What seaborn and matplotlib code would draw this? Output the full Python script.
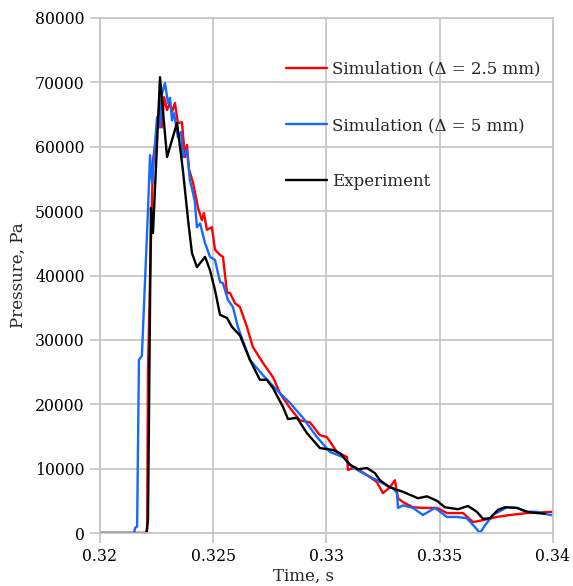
import matplotlib
matplotlib.use("Agg")
import matplotlib.pyplot as plt
import numpy as np
import pandas as pd
import seaborn as sns

# Simulation, mesh 2.5 mm (red)
t_fine = [0.3200, 0.32203, 0.32208, 0.32212, 0.32221, 0.32234, 0.32256, 0.32265, 0.32274,
          0.32283, 0.32296, 0.32309, 0.32318, 0.32331, 0.32344, 0.32362, 0.32375, 0.32384,
          0.32393, 0.32411, 0.32433, 0.32450, 0.32459, 0.32472, 0.32494, 0.32508, 0.32530,
          0.32543, 0.32561, 0.32574, 0.32596, 0.32618, 0.32649, 0.32675, 0.32720, 0.32764,
          0.32795, 0.32839, 0.32883, 0.32927, 0.32971, 0.33002, 0.33046, 0.33091, 0.33095,
          0.33126, 0.33179, 0.33223, 0.33249, 0.33280, 0.33302, 0.33316, 0.33338, 0.33382,
          0.33426, 0.33488, 0.33532, 0.33603, 0.33647, 0.33691, 0.33753, 0.33810, 0.33885,
          0.34000]
p_fine = [0, 0, 300, 25300, 39800, 57900, 63700, 67200, 63000,
          67700, 65700, 66800, 65400, 66800, 63700, 63800, 58400, 60300,
          56500, 54400, 50500, 48600, 49700, 47100, 47500, 44000, 43200,
          42900, 37300, 37300, 35700, 35100, 32000, 28900, 26400, 24200,
          21700, 19400, 17500, 17200, 15200, 14900, 12600, 11800, 9800,
          10200, 9000, 7900, 6200, 7100, 8200, 5400, 4800, 4000,
          3900, 3900, 3100, 3100, 1700, 2000, 2500, 2800, 3100,
          3300]

# Simulation, mesh 5 mm (blue)
t_coarse = [0.3200, 0.32150, 0.32155, 0.32164, 0.32172, 0.32185, 0.32199, 0.32212, 0.32221,
            0.32230, 0.32252, 0.32265, 0.32274, 0.32287, 0.32300, 0.32309, 0.32318, 0.32327,
            0.32344, 0.32358, 0.32366, 0.32384, 0.32397, 0.32411, 0.32419, 0.32428, 0.32442,
            0.32464, 0.32486, 0.32508, 0.32530, 0.32543, 0.32565, 0.32587, 0.32609, 0.32618,
            0.32662, 0.32720, 0.32781, 0.32839, 0.32896, 0.32958, 0.33015, 0.33073, 0.33117,
            0.33161, 0.33223, 0.33280, 0.33294, 0.33311, 0.33316, 0.33338, 0.33382, 0.33426,
            0.33479, 0.33532, 0.33576, 0.33620, 0.33656, 0.33678, 0.33700, 0.33735, 0.33797,
            0.33841, 0.33885, 0.33929, 0.33987, 0.34000]
p_coarse = [0, 0, 800, 1000, 26900, 27500, 39300, 50200, 58700,
            54400, 64600, 63000, 68300, 69900, 66800, 67600, 64100, 65200,
            61500, 62300, 58400, 59500, 54800, 52800, 51400, 47500, 48100,
            45000, 42900, 42400, 39000, 38800, 36200, 35100, 32000, 31100,
            26900, 24500, 22200, 20200, 17900, 14900, 12600, 11800, 10200,
            9300, 8200, 7100, 7000, 6200, 3900, 4300, 3900, 2800,
            3900, 2500, 2500, 2300, 900, 0, 1200, 2800, 4000,
            3900, 3300, 3300, 2800, 2800]

# Experiment (black)
t_exp = [0.3200, 0.32205, 0.32212, 0.32225, 0.32234, 0.32265, 0.32296, 0.32340, 0.32366,
         0.32389, 0.32406, 0.32428, 0.32464, 0.32486, 0.32508, 0.32530, 0.32561, 0.32583,
         0.32618, 0.32662, 0.32706, 0.32737, 0.32764, 0.32808, 0.32830, 0.32870, 0.32914,
         0.32971, 0.33029, 0.33060, 0.33104, 0.33139, 0.33179, 0.33214, 0.33236, 0.33280,
         0.33338, 0.33404, 0.33444, 0.33488, 0.33523, 0.33581, 0.33625, 0.33664, 0.33691,
         0.33722, 0.33757, 0.33788, 0.33841, 0.33885, 0.33929, 0.33965]
p_exp = [0, 0, 2000, 50500, 46600, 70800, 58400, 63700, 56400,
         48600, 43500, 41300, 42900, 40800, 37700, 33900, 33400, 32000,
         30700, 26900, 23800, 23800, 22500, 19600, 17700, 17900, 15500,
         13200, 12900, 12400, 10600, 9900, 10100, 9300, 8200, 7100,
         6400, 5400, 5700, 5000, 4000, 3700, 4200, 3300, 2200,
         2300, 3600, 4000, 3900, 3300, 3100, 3000]

labels = ["Simulation (\u0394 = 2.5 mm)", "Simulation (\u0394 = 5 mm)", "Experiment"]
colors = ["#ff0000", "#1469ff", "#000000"]
x_ticks = [0.32, 0.325, 0.33, 0.335, 0.34]
x_tick_labels = ["0.32", "0.325", "0.33", "0.335", "0.34"]
y_ticks = list(range(0, 80001, 10000))

df = pd.concat([
    pd.DataFrame({"time": t_fine, "pressure": p_fine, "series": labels[0]}),
    pd.DataFrame({"time": t_coarse, "pressure": p_coarse, "series": labels[1]}),
    pd.DataFrame({"time": t_exp, "pressure": p_exp, "series": labels[2]}),
], ignore_index=True)

sns.set_style("whitegrid", {"grid.color": "#c4c4c4", "axes.edgecolor": "#c4c4c4"})
plt.rcParams["font.family"] = ["DejaVu Serif"]

fig = plt.figure(figsize=(5.73, 5.86), dpi=100)
ax = fig.add_axes([0.1745, 0.0904, 0.7905, 0.8789])

sns.lineplot(data=df, x="time", y="pressure", hue="series", hue_order=labels,
             palette=colors, sort=False, estimator=None, linewidth=1.7, ax=ax)

ax.set_xlim(0.32, 0.34)
ax.set_ylim(0, 80000)
ax.set_xticks(x_ticks)
ax.set_xticklabels(x_tick_labels)
ax.set_yticks(y_ticks)
ax.set_yticklabels([str(v) for v in y_ticks])
ax.grid(True, color="#c4c4c4", linewidth=1.2)
for s in ax.spines.values():
    s.set_color("#c4c4c4")
    s.set_linewidth(1.2)
ax.tick_params(axis="both", which="major", left=True, bottom=True, length=7,
               width=1.2, color="#c4c4c4", labelsize=11.3, pad=4, labelcolor="black")
ax.set_xlabel("Time, s", fontsize=12)
ax.xaxis.set_label_coords(0.45, -0.068)
ax.set_ylabel("Pressure, Pa", fontsize=12, labelpad=6)

leg = ax.legend(loc="upper left", bbox_to_anchor=(0.41, 0.917), frameon=False,
                fontsize=12, handlelength=2.5, handletextpad=0.3, labelspacing=2.35,
                borderpad=0, borderaxespad=0)
for line in leg.get_lines():
    line.set_linewidth(1.7)

fig.savefig("out.png", dpi=100)
plt.close(fig)
